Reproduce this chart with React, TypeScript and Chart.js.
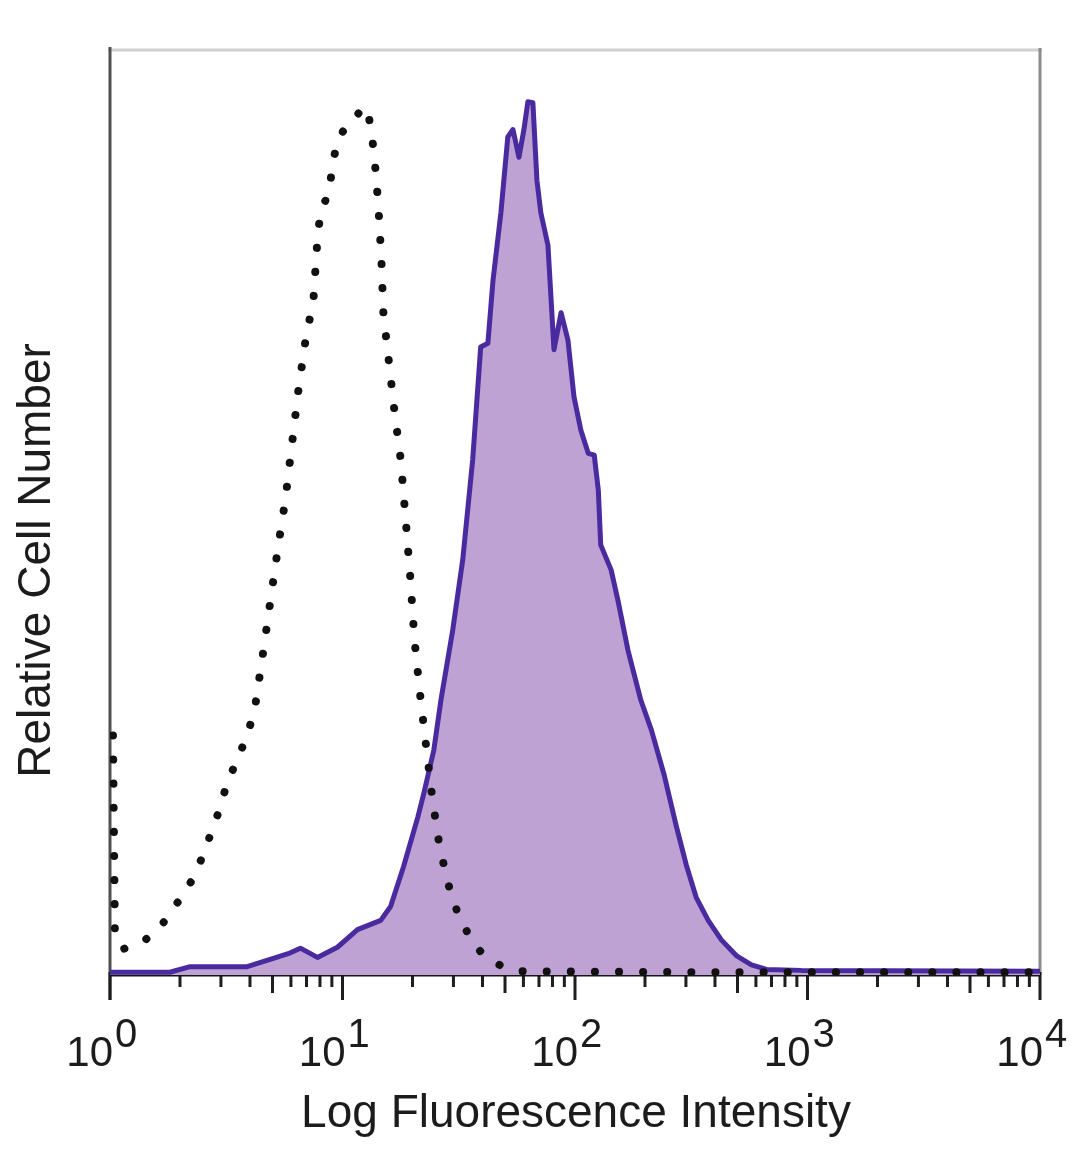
import React, { useEffect, useRef } from "react";
import { Chart, registerables } from "chart.js";

Chart.register(...registerables);

// Stained sample (filled purple histogram): fluorescence intensity and relative count
const stainedIntensity = [
  1.0, 1.81, 2.21, 3.89, 5.04, 5.97, 6.59, 7.8, 9.51, 11.6, 14.6, 16.1, 18.3, 21.1, 22.4,
  24.7, 26.5, 29.8, 32.9, 36.3, 39.3, 42.2, 44.4, 48.0, 51.4, 54.1, 57.4, 60.3, 62.7, 65.9,
  68.6, 71.3, 76.5, 78.8, 81.2, 87.1, 93.3, 99.0, 106, 114, 121, 126, 129, 143, 153, 169,
  192, 213, 242, 272, 301, 332, 374, 426, 494, 574, 666, 942, 10000,
];
const stainedCount = [
  0.3, 0.3, 0.9, 0.9, 1.8, 2.4, 2.9, 1.9, 3.0, 4.9, 5.9, 7.4, 11.7, 17.1, 19.7,
  24.3, 29.7, 37.3, 44.9, 55.7, 67.9, 68.3, 75.1, 82.4, 90.6, 91.4, 88.4, 91.4, 94.4, 94.3,
  85.9, 82.4, 78.9, 73.3, 67.6, 71.6, 68.6, 62.5, 58.9, 56.4, 56.2, 52.4, 46.5, 43.8, 40.5, 35.1,
  29.7, 26.5, 21.6, 16.2, 11.9, 8.4, 5.9, 3.8, 2.1, 1.1, 0.6, 0.5, 0.4,
];

// Isotype control (dotted outline)
const controlIntensity = [
  1.03, 1.05, 1.14, 1.42, 1.69, 1.96, 2.26, 2.52, 2.75, 2.98, 3.19, 3.56, 3.94, 4.22, 4.57,
  4.9, 5.3, 5.68, 6.09, 6.46, 6.93, 7.5, 7.8, 8.04, 8.71, 9.15, 9.51, 10.3, 11.0, 11.6, 12.3,
  12.9, 13.5, 13.9, 14.3, 14.7, 15.0, 15.8, 16.7, 17.8, 18.7, 19.6, 20.4, 21.7, 23.0, 24.4,
  25.9, 28.1, 31.0, 34.9, 40.1, 48.0, 58.5, 349, 10000,
];
const controlCount = [
  25.9, 4.5, 2.8, 3.8, 5.6, 7.9, 10.3, 13.0, 15.7, 18.1, 20.8, 23.5, 26.3, 29.2, 35.1,
  40.5, 46.5, 51.4, 57.8, 63.2, 68.6, 73.0, 79.5, 82.5, 84.5, 88.1, 90.3, 91.6, 92.2, 93.0, 93.9,
  93.3, 89.9, 86.8, 82.7, 77.3, 71.4, 66.5, 61.1, 55.7, 49.2, 42.7, 36.2, 29.7, 24.3, 18.9,
  14.6, 10.3, 7.0, 4.3, 2.2, 1.0, 0.4, 0.3, 0.3,
];

const decadeTicks = [1, 10, 100, 1000, 10000];
const decadeBase = "10";
const decadeExponents = ["0", "1", "2", "3", "4"];
const minorMultipliers = [2, 3, 4, 5, 6, 7, 8, 9];
const xTitle = "Log Fluorescence Intensity";
const yTitle = "Relative Cell Number";

const FONT = '"Liberation Sans", Arial, sans-serif';

export default function App() {
  const ref = useRef<HTMLCanvasElement>(null);

  useEffect(() => {
    document.body.style.margin = "0";
    const canvas = ref.current;
    if (!canvas) return;

    const framePlugin = {
      id: "framePlugin",
      beforeDatasetsDraw(chart: any) {
        const { ctx, chartArea: a, scales } = chart;
        const xs = scales.x;
        ctx.save();
        ctx.lineCap = "butt";
        const seg = (x1: number, y1: number, x2: number, y2: number, c: string, w: number) => {
          ctx.strokeStyle = c;
          ctx.lineWidth = w;
          ctx.beginPath();
          ctx.moveTo(x1, y1);
          ctx.lineTo(x2, y2);
          ctx.stroke();
        };
        seg(a.left - 2, a.top, a.right + 2, a.top, "#d2d0d0", 3);
        seg(a.right, a.top - 2, a.right, a.bottom, "#8c8c8c", 3);
        seg(a.left, a.top - 3, a.left, a.bottom + 25, "#505050", 3);
        const ticks: { v: number; len: number }[] = [];
        decadeTicks.forEach((d, i) => {
          ticks.push({ v: d, len: 25 });
          if (i < decadeTicks.length - 1) {
            minorMultipliers.forEach((m) => ticks.push({ v: d * m, len: m === 5 ? 18 : 12 }));
          }
        });
        ticks.forEach((t) => {
          const px = xs.getPixelForValue(t.v);
          seg(px, a.bottom - 3, px, a.bottom + t.len, "#1e1e1e", 3);
        });
        seg(a.left, a.bottom, a.right + 1, a.bottom, "#151515", 3);
        ctx.restore();
      },
      afterDraw(chart: any) {
        const { ctx, chartArea: a, scales } = chart;
        const xs = scales.x;
        ctx.save();
        ctx.fillStyle = "#1c1c1c";
        ctx.textBaseline = "alphabetic";
        decadeTicks.forEach((d, i) => {
          const px = xs.getPixelForValue(d);
          ctx.font = `42px ${FONT}`;
          ctx.textAlign = "right";
          ctx.fillText(decadeBase, px + 3, a.bottom + 91);
          ctx.font = `40px ${FONT}`;
          ctx.textAlign = "left";
          ctx.fillText(decadeExponents[i], px + 5, a.bottom + 72);
        });
        ctx.font = `46px ${FONT}`;
        ctx.textAlign = "center";
        ctx.fillText(xTitle, (a.left + a.right) / 2 + 1, a.bottom + 152);
        ctx.translate(50, (a.top + a.bottom) / 2 + 48);
        ctx.rotate(-Math.PI / 2);
        ctx.fillText(yTitle, 0, 0);
        ctx.restore();
      },
    };

    const chart = new Chart(canvas, {
      type: "line",
      data: {
        datasets: [
          {
            label: "Isotype control",
            data: controlIntensity.map((v, i) => ({ x: v, y: controlCount[i] })),
            borderColor: "#111111",
            borderWidth: 8,
            borderDash: [0.1, 24],
            borderCapStyle: "round",
            borderJoinStyle: "round",
            fill: false,
            pointRadius: 0,
            tension: 0,
            order: 1,
          },
          {
            label: "Stained",
            data: stainedIntensity.map((v, i) => ({ x: v, y: stainedCount[i] })),
            borderColor: "#4a2b9f",
            borderWidth: 5,
            borderJoinStyle: "round",
            backgroundColor: "#bda2d3",
            fill: "origin",
            pointRadius: 0,
            tension: 0,
            order: 2,
          },
        ],
      },
      options: {
        responsive: false,
        animation: false,
        layout: { padding: { left: 110, right: 40, top: 50, bottom: 194 } },
        plugins: {
          legend: { display: false },
          tooltip: { enabled: false },
        },
        scales: {
          x: { type: "logarithmic", min: 1, max: 10000, display: false },
          y: { type: "linear", min: 0, max: 100, display: false },
        },
      },
      plugins: [framePlugin],
    } as any);

    return () => chart.destroy();
  }, []);

  return <canvas ref={ref} width={1080} height={1169} style={{ display: "block" }} />;
}
